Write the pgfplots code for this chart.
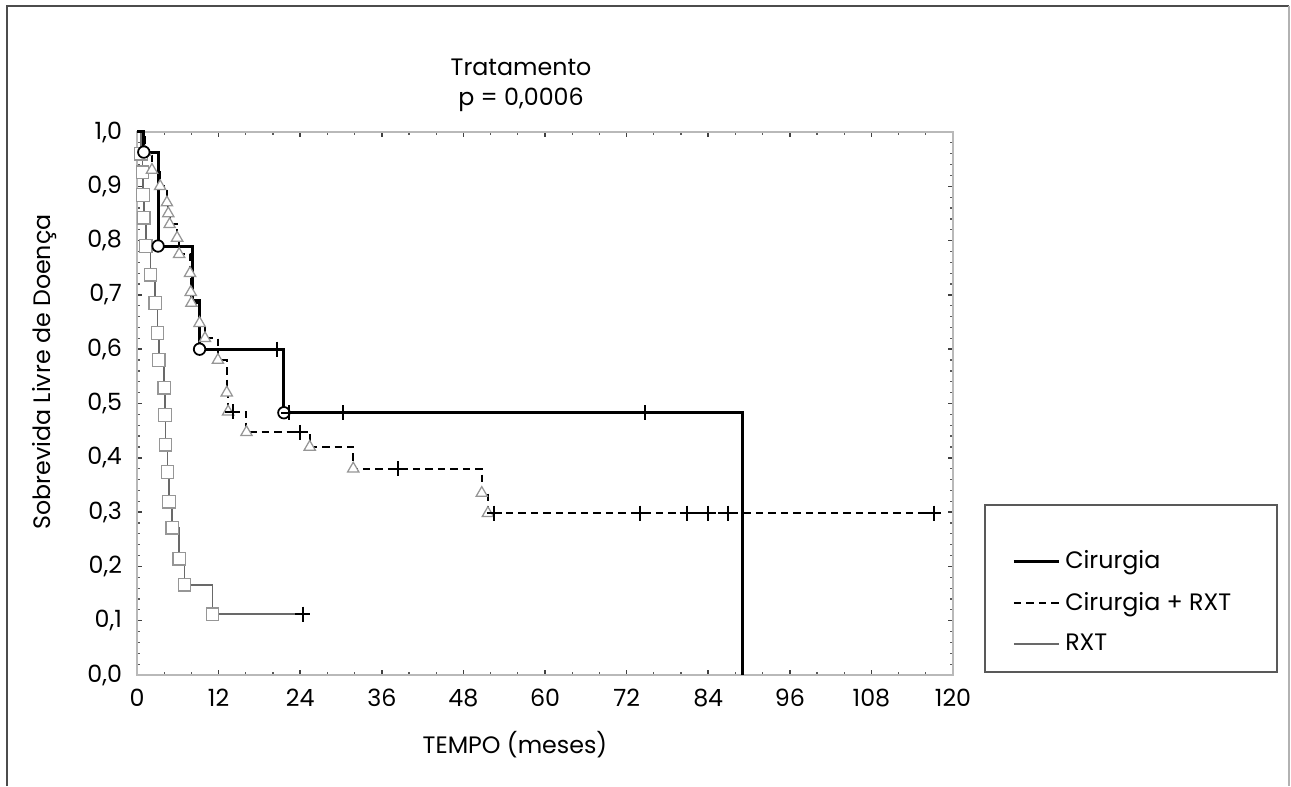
\documentclass[border=0pt]{standalone}
\usepackage{pgfplots}
\pgfplotsset{compat=1.18}
\usepackage{pgfplotstable}
\usepackage{fontspec}
\setmainfont{Poppins}
\definecolor{framegray}{RGB}{185,185,185}
\definecolor{rxtgray}{RGB}{105,105,105}
\definecolor{markgray}{RGB}{150,150,150}

% Kaplan-Meier steps (t in months, S = survival after the step)
\pgfplotstableread{
t S
0 1.0
1.0 0.963
3.1 0.79
8.1 0.69
9.2 0.60
21.6 0.483
89.0 0.0
}\cirurgia
\pgfplotstableread{
t S
20.6 0.60
22.3 0.483
30.3 0.483
74.7 0.483
}\cirurgiacens

\pgfplotstableread{
t S
0 1.0
1.2 0.963
2.2 0.93
3.4 0.90
4.4 0.87
4.6 0.85
4.8 0.83
5.9 0.805
6.2 0.775
7.8 0.74
7.9 0.705
8.0 0.685
9.2 0.648
10.0 0.62
11.9 0.58
13.2 0.52
13.4 0.485
16.1 0.447
25.4 0.42
31.8 0.38
50.7 0.335
51.6 0.298
117.6 0.298
}\cirrxt
\pgfplotstableread{
t S
14.1 0.485
24.0 0.447
38.4 0.38
52.5 0.298
74.0 0.298
80.9 0.298
84.0 0.298
86.9 0.298
117.2 0.298
}\cirrxtcens

\pgfplotstableread{
t S
0 1.0
0.6 0.96
0.8 0.926
0.9 0.884
1.0 0.842
1.3 0.79
2.0 0.737
2.7 0.685
3.0 0.63
3.2 0.58
4.0 0.529
4.1 0.479
4.2 0.424
4.5 0.374
4.7 0.319
5.2 0.271
6.2 0.214
7.0 0.166
11.1 0.112
24.4 0.112
}\rxt
\pgfplotstableread{
t S
24.4 0.112
}\rxtcens

\begin{document}
\begin{tikzpicture}[font=\fontsize{9.5}{12}\selectfont]
\begin{axis}[
  scale only axis,
  width=326.4pt, height=217.2pt,
  xmin=0, xmax=120, ymin=0, ymax=1,
  xtick={0,12,24,36,48,60,72,84,96,108,120},
  ytick={0,0.1,0.2,0.3,0.4,0.5,0.6,0.7,0.8,0.9,1},
  minor x tick num=2, minor y tick num=4,
  axis line style={framegray, line width=0.8pt},
  major tick length=2pt, minor tick length=1.3pt,
  major tick style={black!75, line width=0.6pt},
  minor tick style={black!65, line width=0.5pt},
  /pgf/number format/assume math mode=true,
  yticklabel style={xshift=-2.5pt, /pgf/number format/.cd, use comma, fixed, fixed zerofill, precision=1},
  xticklabel style={yshift=-2pt},
  legend style={draw=none, fill=none, at={(1.072,0.134)}, anchor=west,
    inner sep=0pt, row sep=4pt, font=\fontsize{9.5}{12}\selectfont},
  legend cell align=left,
  reverse legend,
  legend image code/.code={\draw[#1] (0pt,0pt) -- (18pt,0pt);},
  clip=false,
]
\addplot[rxtgray, line width=0.7pt, const plot mark left, mark=square*,
  mark indices={2,...,19}, mark size=2.5pt,
  mark options={markgray, fill=white, line width=0.5pt}]
  table[x=t, y=S] {\rxt};
\addlegendentry{RXT}
\addplot[black, line width=0.8pt, dash pattern=on 3pt off 2pt, const plot mark left,
  mark=triangle*, mark indices={2,...,22}, mark size=2.6pt,
  mark options={solid, markgray, fill=white, line width=0.5pt}]
  table[x=t, y=S] {\cirrxt};
\addlegendentry{Cirurgia + RXT}
\addplot[black, line width=1.2pt, const plot mark left, mark=*,
  mark indices={2,3,5,6}, mark size=2.3pt,
  mark options={black, fill=white, line width=0.7pt}]
  table[x=t, y=S] {\cirurgia};
\addlegendentry{Cirurgia}
\addplot[forget plot, only marks, mark=+, mark size=3pt, black, line width=0.7pt]
  table[x=t, y=S] {\cirurgiacens};
\addplot[forget plot, only marks, mark=+, mark size=3pt, black, line width=0.7pt]
  table[x=t, y=S] {\cirrxtcens};
\addplot[forget plot, only marks, mark=+, mark size=3pt, black, line width=0.7pt]
  table[x=t, y=S] {\rxtcens};
\end{axis}
\begin{scope}[shift={(-54.8pt,270pt)}, x=0.4pt, y=-0.4pt]
  \node[align=center] at (521,85) {Tratamento\\p = 0,0006};
  \node[rotate=90] at (45,372) {Sobrevida Livre de Doença};
  \node at (515,745) {TEMPO (meses)};
  \draw[black!65, line width=0.9pt] (985,505) rectangle (1277,672);
  \draw[black!70, line width=0.8pt] (7,786) -- (7,6) -- (1289,6);
  \draw[black!30, line width=0.6pt] (1289,6) -- (1289,786);
  \pgfresetboundingbox
  \useasboundingbox (0,0) rectangle (1291,786);
\end{scope}
\end{tikzpicture}
\end{document}
